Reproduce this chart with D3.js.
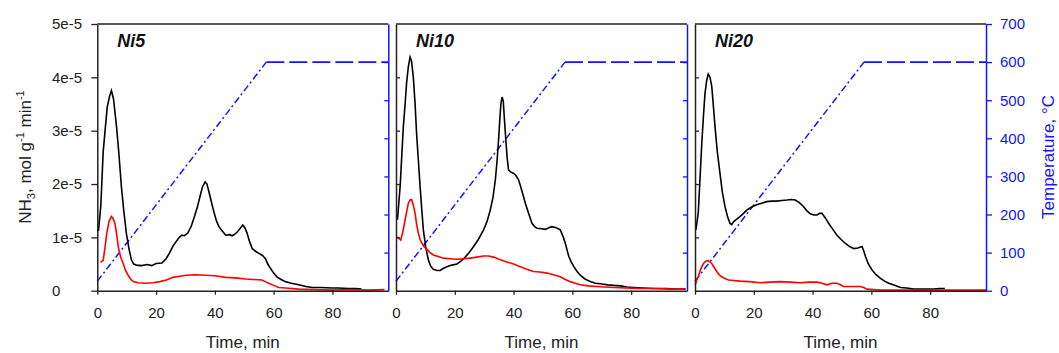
<!DOCTYPE html>
<html>
<head>
<meta charset="utf-8">
<script src="https://cdn.jsdelivr.net/npm/d3@7"></script>
<style>
  body { margin: 0; background: #fff; }
  svg { display: block; font-family: "Liberation Sans", Arial, sans-serif; }
</style>
</head>
<body>
<div id="svgOutput"></div>
<script>
// NH3 signal in units of 1e-5 mol g-1 min-1, as [time (min), value]

const panelNames = ["Ni5", "Ni10", "Ni20"];

const ni5Black = [[0.4,1.12],[1.2,1.6],[2,2.6],[2.8,3.1],[3.4,3.45],[4.2,3.65],[4.8,3.75],[5.5,3.6],[6.5,3.1],[7.3,2.6],[8.2,1.95],[9,1.5],[9.9,1.07],[10.8,0.78],[11.6,0.58],[12.4,0.5],[13.3,0.48],[15,0.47],[17,0.49],[18.5,0.47],[20,0.51],[22,0.52],[23.4,0.6],[24.5,0.7],[25.7,0.83],[26.8,0.92],[27.9,1.0],[28.8,1.04],[29.6,1.03],[30.8,1.08],[31.9,1.2],[33,1.38],[34.1,1.58],[35,1.78],[35.8,1.95],[36.7,2.04],[37.3,2.0],[38,1.85],[39,1.62],[39.8,1.45],[40.6,1.3],[41.4,1.2],[42.5,1.12],[43.7,1.04],[45,1.05],[45.9,1.03],[46.8,1.06],[47.6,1.1],[48.5,1.16],[49.5,1.23],[50.2,1.18],[51,1.07],[51.8,0.92],[52.7,0.79],[53.8,0.74],[55,0.7],[56.2,0.66],[57.2,0.6],[58,0.5],[58.9,0.42],[60,0.33],[61.1,0.26],[62.5,0.21],[64,0.17],[66,0.14],[68.5,0.11],[71,0.08],[73,0.06],[76,0.06],[79.7,0.05],[82,0.05],[85.4,0.04],[88,0.04],[89.9,0.03]];

const ni5Red = [[1.1,0.53],[2,0.57],[2.6,0.8],[3.2,1.07],[4,1.3],[4.8,1.39],[5.4,1.35],[6,1.26],[6.6,1.05],[7.1,0.83],[8,0.62],[8.8,0.51],[9.6,0.38],[10.5,0.29],[11.3,0.22],[12.2,0.17],[14,0.15],[16.7,0.14],[19,0.15],[21.2,0.17],[23.5,0.2],[25.7,0.25],[28,0.27],[30.2,0.29],[33,0.3],[36.9,0.29],[40,0.28],[43.7,0.25],[47,0.24],[50.5,0.22],[53,0.21],[56,0.2],[57.2,0.17],[58.3,0.14],[60,0.1],[61.7,0.06],[64,0.05],[68.5,0.03],[74,0.02],[79.7,0.01],[86,0.02],[92,0.01],[97.7,0.02]];

const ni10Black = [[0.5,1.33],[1.4,1.95],[2.5,3.08],[3.1,3.5],[3.6,3.89],[4.2,4.2],[4.8,4.38],[5.3,4.3],[5.9,4.0],[6.5,3.5],[7,2.95],[7.6,2.45],[8.2,1.95],[8.8,1.5],[9.3,1.14],[10.1,0.82],[11,0.58],[11.8,0.46],[12.7,0.4],[14,0.38],[15,0.38],[16.2,0.42],[17.3,0.45],[19,0.48],[20.7,0.5],[22,0.55],[23,0.6],[24.7,0.7],[26.4,0.83],[28,0.96],[29.8,1.14],[31,1.3],[32,1.5],[33,1.75],[33.8,2.08],[34.4,2.45],[34.9,2.83],[35.3,3.2],[35.7,3.51],[36.1,3.63],[36.5,3.55],[36.9,3.2],[37.4,2.8],[37.8,2.5],[38.3,2.26],[39.2,2.22],[40,2.2],[40.8,2.16],[41.7,2.08],[42.8,1.88],[44,1.64],[45.1,1.45],[46.3,1.26],[47.2,1.2],[48,1.17],[49.5,1.16],[50.8,1.15],[52,1.18],[53,1.2],[54.5,1.18],[55.9,1.14],[56.8,1.02],[57.6,0.89],[58.2,0.76],[58.8,0.64],[59.6,0.54],[60.5,0.45],[61.6,0.36],[62.7,0.29],[64.3,0.22],[66.1,0.17],[67.8,0.14],[69.5,0.13],[72,0.11],[74,0.1],[76.4,0.09],[78.5,0.07],[80.9,0.06],[84,0.05],[87.7,0.04],[92,0.04],[95,0.03],[98.5,0.03]];

const ni10Red = [[0.5,1.01],[1,0.98],[1.6,0.95],[2.3,1.1],[3.1,1.33],[3.7,1.5],[4.2,1.64],[4.8,1.7],[5.3,1.71],[5.9,1.6],[6.5,1.45],[7,1.25],[7.6,1.08],[8.2,0.96],[8.8,0.89],[9.6,0.82],[10.5,0.78],[11.5,0.72],[12.7,0.67],[14.4,0.64],[16.1,0.61],[18.4,0.6],[20.7,0.59],[23,0.6],[25.2,0.61],[27.5,0.63],[29.8,0.65],[31.5,0.65],[33.2,0.63],[35.5,0.58],[37.7,0.54],[40,0.5],[42.3,0.45],[44.5,0.4],[46.8,0.36],[49,0.35],[51.4,0.33],[53.6,0.3],[55.9,0.26],[57.6,0.21],[59.3,0.17],[61,0.14],[62.7,0.11],[65.5,0.09],[68.4,0.08],[71,0.07],[74.1,0.06],[78,0.05],[83.2,0.04],[88,0.04],[93,0.03],[98.5,0.03]];

const ni20Black = [[0.3,1.14],[1.1,1.45],[1.7,2.1],[2.3,2.76],[2.9,3.3],[3.4,3.7],[4,3.95],[4.5,4.06],[5.1,4.0],[5.7,3.83],[6.2,3.5],[6.8,3.08],[7.6,2.6],[8.5,2.2],[9.3,1.85],[10.2,1.58],[11,1.4],[11.9,1.26],[12.5,1.24],[13.1,1.29],[14.2,1.34],[15.3,1.39],[16.5,1.45],[17.6,1.51],[19.3,1.57],[21,1.61],[22.7,1.64],[24.4,1.67],[26,1.68],[27.8,1.68],[29.5,1.69],[31.3,1.7],[32.7,1.71],[34.1,1.7],[35.5,1.65],[36.9,1.58],[38,1.5],[39.2,1.44],[40.4,1.42],[41.5,1.42],[42.4,1.45],[43.2,1.45],[44.4,1.36],[45.5,1.26],[46.9,1.15],[48.3,1.04],[49.7,0.96],[51.1,0.89],[52.5,0.83],[54,0.79],[55.4,0.8],[56.8,0.83],[57.4,0.75],[58,0.64],[59,0.5],[60.2,0.39],[61.6,0.3],[63.1,0.23],[64.5,0.18],[65.9,0.14],[67.9,0.1],[69.9,0.06],[72,0.05],[74.4,0.03],[77.8,0.03],[81.3,0.03],[83,0.04],[85,0.04]];

const ni20Red = [[0.1,0.11],[0.6,0.2],[1.1,0.26],[1.7,0.37],[2.3,0.45],[2.9,0.51],[3.4,0.54],[4,0.56],[4.5,0.56],[5.1,0.54],[5.7,0.51],[6.5,0.44],[7.4,0.36],[8.2,0.3],[9.1,0.26],[10.2,0.23],[11.4,0.2],[13.3,0.19],[15.3,0.18],[18.7,0.17],[22.2,0.15],[25.5,0.16],[29,0.17],[32.4,0.16],[35.8,0.15],[38.7,0.16],[41.5,0.16],[43.2,0.14],[44.9,0.11],[46.6,0.14],[48.3,0.14],[49.5,0.11],[50.6,0.08],[53.5,0.08],[56.3,0.08],[57.4,0.06],[58.5,0.03],[60.8,0.02],[63.1,0.01],[70,0.01],[80,0.01],[90,0.01],[99.2,0.01]];

// Temperature program, [time (min), °C]

const tempRamp = [[0, 25], [57.5, 600]];
const tempHold = [[57.5, 600], [99, 600]];

// Axis ticks

const timeTicks = [0, 20, 40, 60, 80];
const nh3Ticks = [0, 1, 2, 3, 4, 5];
const tempTicks = [0, 100, 200, 300, 400, 500, 600, 700];

const series = [
  { black: ni5Black, red: ni5Red },
  { black: ni10Black, red: ni10Red },
  { black: ni20Black, red: ni20Red }
];

(function () {
  document.addEventListener('DOMContentLoaded', function () {

    // Config

    const width = 1059;
    const height = 353;
    const top = 24;
    const bottom = 290.7;
    const panelLeft = [97.3, 396, 695];
    const panelWidth = 291;
    const blue = "#1414ff";

    const svg = d3.select("#svgOutput")
      .append("svg")
      .attr("width", width)
      .attr("height", height);

    // Shared y scales

    const yScale = d3.scaleLinear().domain([0, 5]).range([bottom, top]);
    const tScale = d3.scaleLinear().domain([0, 700]).range([bottom, top]);

    panelNames.forEach((name, i) => {
      const x0 = panelLeft[i];
      const xScale = d3.scaleLinear().domain([0, 99]).range([x0, x0 + panelWidth]);
      const g = svg.append("g").attr("class", "panel");

      // Temperature program

      const tLine = d3.line().x(d => xScale(d[0])).y(d => tScale(d[1]));

      g.append("path")
        .attr("d", tLine(tempRamp))
        .attr("fill", "none")
        .attr("stroke", blue)
        .attr("stroke-width", 1.5)
        .attr("stroke-dasharray", "7,3,2,3");

      g.append("path")
        .attr("d", tLine(tempHold))
        .attr("fill", "none")
        .attr("stroke", blue)
        .attr("stroke-width", 1.8)
        .attr("stroke-dasharray", "18,5");

      // NH3 curves

      const line = d3.line().x(d => xScale(d[0])).y(d => yScale(d[1]));

      g.append("path")
        .attr("d", line(series[i].black))
        .attr("fill", "none")
        .attr("stroke", "#000")
        .attr("stroke-width", 1.6);

      g.append("path")
        .attr("d", line(series[i].red))
        .attr("fill", "none")
        .attr("stroke", "#ff0000")
        .attr("stroke-width", 1.6);

      // Frame: top black, right blue

      g.append("line")
        .attr("x1", x0).attr("x2", x0 + panelWidth)
        .attr("y1", top).attr("y2", top)
        .attr("stroke", "#222").attr("stroke-width", 1.5);

      // Bottom axis

      const gx = g.append("g")
        .attr("transform", "translate(0," + bottom + ")")
        .call(d3.axisBottom(xScale).tickValues(timeTicks).tickSize(4).tickSizeOuter(0));

      gx.select(".domain").attr("stroke", "#222").attr("stroke-width", 1.5);
      gx.selectAll(".tick line").attr("stroke", "#222").attr("stroke-width", 1.3);
      gx.selectAll(".tick text")
        .attr("y", 27).attr("dy", 0)
        .attr("font-size", 15).attr("fill", "#222");

      g.append("text")
        .attr("x", x0 + panelWidth / 2)
        .attr("y", 348)
        .attr("text-anchor", "middle")
        .attr("font-size", 17)
        .attr("fill", "#222")
        .text("Time, min");

      // Left axis

      const gy = g.append("g").attr("transform", "translate(" + x0 + ",0)");

      if (i === 0) {
        gy.call(d3.axisLeft(yScale).tickValues(nh3Ticks).tickSize(6).tickSizeOuter(0)
          .tickFormat(d => d === 0 ? "0" : d + "e-5"));
        gy.selectAll(".tick text")
          .attr("x", 52 - x0)
          .attr("text-anchor", "start")
          .attr("font-size", 15)
          .attr("fill", "#222");
      } else {
        gy.call(d3.axisLeft(yScale).tickValues([1, 2, 3, 4]).tickSize(-4).tickSizeOuter(0).tickFormat(""));
      }

      gy.select(".domain").attr("stroke", "#222").attr("stroke-width", 1.5);
      gy.selectAll(".tick line").attr("stroke", "#222").attr("stroke-width", 1.3);

      // Right axis (temperature)

      const gr = g.append("g").attr("transform", "translate(" + (x0 + panelWidth) + ",0)");

      if (i === 2) {
        gr.call(d3.axisRight(tScale).tickValues(tempTicks).tickSize(6).tickSizeOuter(0));
        gr.selectAll(".tick text")
          .attr("x", 14)
          .attr("font-size", 15)
          .attr("fill", blue);
      } else {
        gr.call(d3.axisRight(tScale).tickValues([100, 200, 300, 400, 500, 600]).tickSize(-4).tickSizeOuter(0).tickFormat(""));
      }

      gr.select(".domain").attr("stroke", blue).attr("stroke-width", 1.5);
      gr.selectAll(".tick line").attr("stroke", blue).attr("stroke-width", 1.3);

      // Panel label

      g.append("text")
        .attr("x", x0 + 20)
        .attr("y", 47)
        .attr("font-size", 18)
        .attr("font-weight", "bold")
        .attr("font-style", "italic")
        .attr("fill", "#111")
        .text(name);
    });

    // Axis titles

    const yTitle = svg.append("text")
      .attr("transform", "translate(31,157) rotate(-90)")
      .attr("text-anchor", "middle")
      .attr("font-size", 17)
      .attr("fill", "#222");

    yTitle.append("tspan").text("NH");
    yTitle.append("tspan").attr("font-size", 11).attr("dy", 4).text("3");
    yTitle.append("tspan").attr("dy", -4).text(", mol g");
    yTitle.append("tspan").attr("font-size", 11).attr("dy", -7).text("-1");
    yTitle.append("tspan").attr("dy", 7).text(" min");
    yTitle.append("tspan").attr("font-size", 11).attr("dy", -7).text("-1");

    svg.append("text")
      .attr("transform", "translate(1054,157) rotate(-90)")
      .attr("text-anchor", "middle")
      .attr("font-size", 17)
      .attr("fill", blue)
      .text("Temperature, °C");

  });
})();
</script>
</body>
</html>
